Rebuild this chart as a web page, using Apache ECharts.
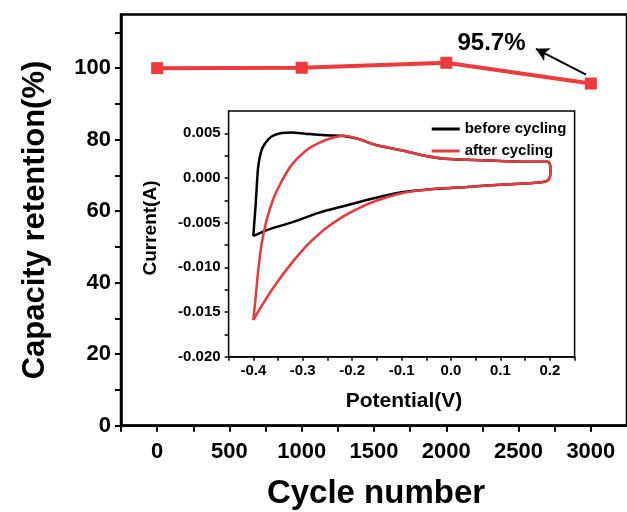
<!DOCTYPE html>
<html>
<head>
<meta charset="UTF-8">
<script src="https://cdn.jsdelivr.net/npm/echarts@6.0.0/dist/echarts.min.js"></script>
<style>
body { margin:0; padding:0; background:#fff; }
#chart { width:627px; height:512px; }
</style>
</head>
<body><div id="chart"></div>
<script>
// main plot: capacity retention vs cycle number
var cycles = [0, 1000, 2000, 3000];
var retention = [100, 100.1, 101.5, 95.7];

// inset: CV loops, [potential V, current A], traced round the loop
var beforeCV = [
  [-0.400, -0.0065], [-0.398, -0.0050], [-0.395, -0.0028], [-0.393, -0.0009],
  [-0.390, 0.0013], [-0.384, 0.0030], [-0.376, 0.0039], [-0.363, 0.00465],
  [-0.343, 0.00503], [-0.322, 0.0051], [-0.295, 0.00496], [-0.255, 0.00478],
  [-0.221, 0.00472], [-0.187, 0.00436], [-0.154, 0.00372], [-0.100, 0.0031],
  [-0.063, 0.0026], [-0.022, 0.00222], [0.032, 0.00203], [0.100, 0.0019],
  [0.167, 0.00182], [0.195, 0.00182], [0.200, 0.0016], [0.201, 0.0008],
  [0.200, 0.0001], [0.195, -0.0003], [0.180, -0.0005], [0.100, -0.00075],
  [0.032, -0.0010], [-0.036, -0.00123], [-0.100, -0.0016], [-0.154, -0.00224],
  [-0.214, -0.0031], [-0.268, -0.0039], [-0.322, -0.00497], [-0.370, -0.00578],
  [-0.400, -0.0065]
];
var afterCV = [
  [-0.400, -0.0159], [-0.395, -0.0132], [-0.390, -0.0103], [-0.383, -0.0073],
  [-0.373, -0.0047], [-0.360, -0.0024], [-0.343, -0.0004], [-0.322, 0.0015],
  [-0.295, 0.0030], [-0.268, 0.0039], [-0.241, 0.00447], [-0.214, 0.00473],
  [-0.187, 0.00436], [-0.154, 0.00372], [-0.100, 0.0031], [-0.063, 0.0026],
  [-0.022, 0.00222], [0.032, 0.00203], [0.100, 0.0019], [0.167, 0.00182],
  [0.195, 0.00182], [0.200, 0.0016], [0.201, 0.0008], [0.200, 0.0001],
  [0.195, -0.0003], [0.180, -0.0005], [0.100, -0.00075], [0.032, -0.0010],
  [-0.036, -0.00123], [-0.100, -0.0017], [-0.154, -0.0026], [-0.187, -0.0034],
  [-0.221, -0.0044], [-0.255, -0.0057], [-0.289, -0.0074], [-0.322, -0.0095],
  [-0.356, -0.0120], [-0.383, -0.0143], [-0.400, -0.0159]
];

var FONT = "'Liberation Sans', Arial, sans-serif";
var RED = '#ee3a3a';

function near(v, step) {
  return Math.abs(Math.round(v / step) * step - v) < step * 1e-6;
}

function mainAxis(extra) {
  return Object.assign({
    type: 'value',
    axisLine: { show: true, onZero: false, lineStyle: { color: '#000', width: 2.5 } },
    axisTick: { show: true, inside: false, length: 6, lineStyle: { color: '#000', width: 2 } },
    splitLine: { show: false }
  }, extra);
}

function insetAxis(extra) {
  return Object.assign({
    type: 'value',
    axisLine: { show: true, onZero: false, lineStyle: { color: '#000', width: 1.5 } },
    axisTick: { show: true, inside: false, length: 4, lineStyle: { color: '#000', width: 1.5 } },
    splitLine: { show: false }
  }, extra);
}

var option = {
  animation: false,
  backgroundColor: '#fff',
  textStyle: { fontFamily: FONT },
  grid: [
    { left: 121, top: 14.5, width: 511, height: 411.2, show: true, borderColor: '#000', borderWidth: 2.5 },
    { left: 228.6, top: 111, width: 346, height: 245.7, show: true, borderColor: '#000', borderWidth: 1.5, backgroundColor: '#fff', z: 3 }
  ],
  legend: {
    data: ['before cycling', 'after cycling'],
    orient: 'vertical',
    left: 426.7,
    top: 116,
    icon: 'rect',
    itemWidth: 28,
    itemHeight: 3,
    itemGap: 6,
    textStyle: { fontFamily: FONT, fontWeight: 'bold', fontSize: 15, color: '#000', lineHeight: 16 }
  },
  xAxis: [
    mainAxis({
      gridIndex: 0, min: -250, max: 3250, interval: 250,
      axisLabel: {
        margin: 15, fontFamily: FONT, fontWeight: 'bold', fontSize: 22, color: '#000',
        showMaxLabel: false,
        formatter: function (v) { return (v >= 0 && near(v, 500)) ? String(v) : ''; }
      }
    }),
    insetAxis({
      gridIndex: 1, min: -0.45, max: 0.25, interval: 0.05,
      axisLabel: {
        margin: 7, fontFamily: FONT, fontWeight: 'bold', fontSize: 15, color: '#000',
        formatter: function (v) { return (near(v, 0.1) && v > -0.42 && v < 0.22) ? v.toFixed(1) : ''; }
      }
    })
  ],
  yAxis: [
    mainAxis({
      gridIndex: 0, min: 0, max: 115, interval: 10,
      axisLabel: {
        margin: 10, fontFamily: FONT, fontWeight: 'bold', fontSize: 22, color: '#000',
        showMaxLabel: false,
        formatter: function (v) { return (near(v, 20) && v <= 100) ? String(v) : ''; }
      }
    }),
    insetAxis({
      gridIndex: 1, min: -0.02, max: 0.0075, interval: 0.0025,
      axisLabel: {
        margin: 8, fontFamily: FONT, fontWeight: 'bold', fontSize: 15, color: '#000',
        showMaxLabel: false,
        formatter: function (v) { return near(v, 0.005) ? v.toFixed(3) : ''; }
      }
    })
  ],
  series: [
    {
      name: 'Capacity retention',
      type: 'line',
      xAxisIndex: 0, yAxisIndex: 0,
      data: cycles.map(function (c, i) { return [c, retention[i]]; }),
      symbol: 'rect',
      symbolSize: 12,
      itemStyle: { color: RED },
      lineStyle: { color: RED, width: 4 },
      z: 2,
      markLine: {
        silent: true,
        symbol: ['none', 'arrow'],
        symbolSize: [11, 13],
        lineStyle: { color: '#000', width: 2, type: 'solid' },
        label: { show: false },
        data: [[{ coord: [2967, 98.2] }, { coord: [2620, 105.4] }]]
      },
      markPoint: {
        silent: true,
        symbol: 'circle',
        symbolSize: 1,
        itemStyle: { color: 'rgba(0,0,0,0)' },
        label: {
          show: true, position: 'inside', formatter: '95.7%',
          fontFamily: FONT, fontWeight: 'bold', fontSize: 24, color: '#000'
        },
        data: [{ coord: [2313, 106.9] }]
      }
    },
    {
      name: 'before cycling',
      type: 'line',
      xAxisIndex: 1, yAxisIndex: 1,
      data: beforeCV,
      symbol: 'none',
      smooth: 0.3,
      itemStyle: { color: '#000' },
      lineStyle: { color: '#000', width: 2.5 },
      z: 4
    },
    {
      name: 'after cycling',
      type: 'line',
      xAxisIndex: 1, yAxisIndex: 1,
      data: afterCV,
      symbol: 'none',
      smooth: 0.3,
      itemStyle: { color: '#e8393c' },
      lineStyle: { color: '#e8393c', width: 2.5 },
      z: 5
    }
  ],
  graphic: [
    { type: 'text', x: 35, y: 220, rotation: Math.PI / 2, z: 10,
      style: { text: 'Capacity retention(%)', font: 'bold 31px ' + FONT, fill: '#000', textAlign: 'center', textVerticalAlign: 'middle' } },
    { type: 'text', x: 376, y: 494, z: 10,
      style: { text: 'Cycle number', font: 'bold 33px ' + FONT, fill: '#000', textAlign: 'center', textVerticalAlign: 'middle' } },
    { type: 'text', x: 151, y: 228, rotation: Math.PI / 2, z: 10,
      style: { text: 'Current(A)', font: 'bold 19px ' + FONT, fill: '#000', textAlign: 'center', textVerticalAlign: 'middle' } },
    { type: 'text', x: 404, y: 401, z: 10,
      style: { text: 'Potential(V)', font: 'bold 21px ' + FONT, fill: '#000', textAlign: 'center', textVerticalAlign: 'middle' } }
  ]
};

var chart = echarts.init(document.getElementById('chart'));
chart.setOption(option);
</script>
</body></html>
